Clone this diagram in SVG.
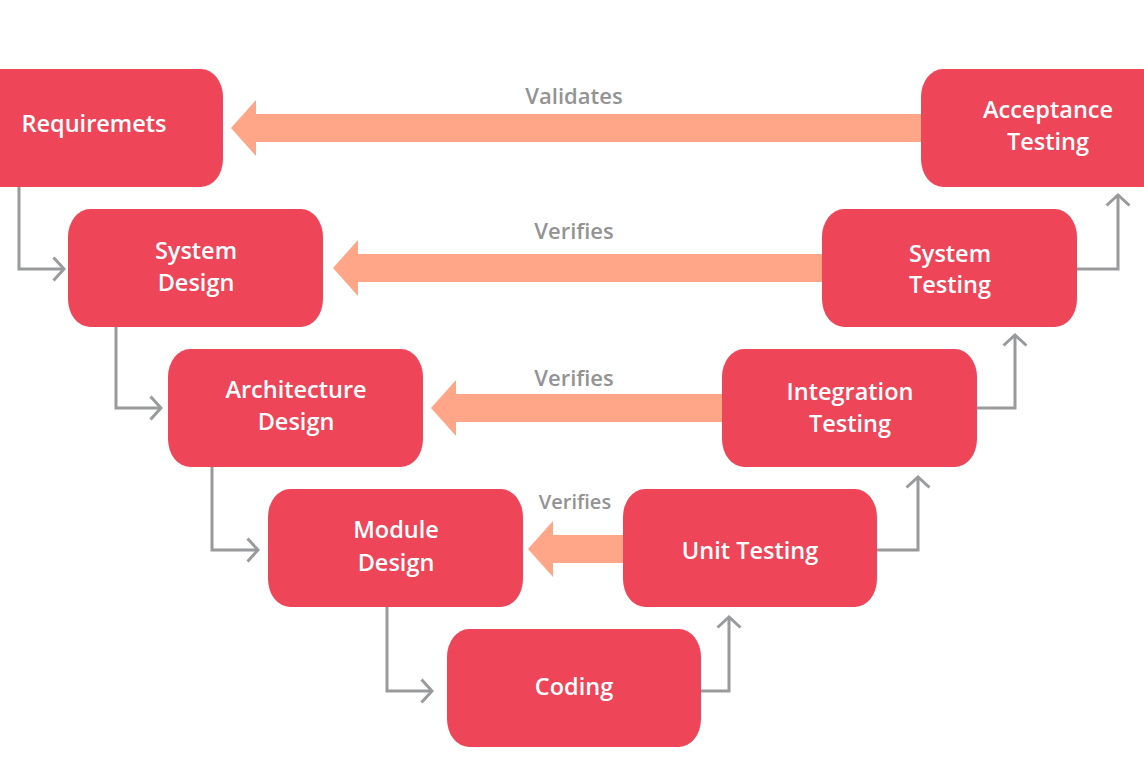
<svg xmlns="http://www.w3.org/2000/svg" width="1144" height="771" viewBox="0 0 1144 771">
<defs>
<style>
.node rect{fill:#EE4558;}
.node text{fill:#FFFFFF;font-family:"Open Sans","Noto Sans",sans-serif;font-weight:600;font-size:23.5px;text-anchor:middle;}
.big{fill:#FFA588;}
.lbl{fill:#939393;font-family:"Open Sans","Noto Sans",sans-serif;font-weight:600;font-size:22px;text-anchor:middle;}
.conn{fill:none;stroke:#999A9C;stroke-width:3;marker-end:url(#chev);}
</style>
<marker id="chev" viewBox="0 0 14 26" refX="12" refY="13" markerWidth="14" markerHeight="26" markerUnits="userSpaceOnUse" orient="auto">
<path d="M1.5,1.5 L12,13 L1.5,24.5" fill="none" stroke="#999A9C" stroke-width="3"/>
</marker>
</defs>
<rect width="1144" height="771" fill="#FFFFFF"/>

<g id="verify-arrows">
<path class="big" d="M231,128 L256,100 L256,114 L922,114 L922,142 L256,142 L256,156 Z"/>
<path class="big" d="M333,268 L358,240 L358,254 L823,254 L823,282 L358,282 L358,296 Z"/>
<path class="big" d="M431,408 L456,380 L456,394 L723,394 L723,422 L456,422 L456,436 Z"/>
<path class="big" d="M528,549 L553,521 L553,535 L624,535 L624,563 L553,563 L553,577 Z"/>
<text class="lbl" x="574" y="104">Validates</text>
<text class="lbl" x="574" y="239">Verifies</text>
<text class="lbl" x="574" y="386">Verifies</text>
<text class="lbl" x="575" y="509" style="font-size:20px">Verifies</text>
</g>

<g id="connectors">
<path class="conn" d="M19,187 L19,269 L64,269"/>
<path class="conn" d="M116,327 L116,408 L161,408"/>
<path class="conn" d="M212,467 L212,550 L258,550"/>
<path class="conn" d="M387,607 L387,691 L432,691"/>
<path class="conn" d="M701,691 L729,691 L729,617"/>
<path class="conn" d="M877,550 L918,550 L918,477"/>
<path class="conn" d="M977,408 L1015,408 L1015,335"/>
<path class="conn" d="M1077,269 L1118,269 L1118,195"/>
</g>

<g id="requirements" class="node">
<rect x="-32" y="69" width="255" height="118" rx="22" ry="28"/>
<text x="94" y="132">Requiremets</text>
</g>
<g id="system-design" class="node">
<rect x="68" y="209" width="255" height="118" rx="22" ry="28"/>
<text x="196" y="259">System</text>
<text x="196" y="291">Design</text>
</g>
<g id="architecture-design" class="node">
<rect x="168" y="349" width="255" height="118" rx="22" ry="28"/>
<text x="296" y="398">Architecture</text>
<text x="296" y="430">Design</text>
</g>
<g id="module-design" class="node">
<rect x="268" y="489" width="255" height="118" rx="22" ry="28"/>
<text x="396" y="538">Module</text>
<text x="396" y="571">Design</text>
</g>
<g id="coding" class="node">
<rect x="447" y="629" width="254" height="118" rx="22" ry="28"/>
<text x="574" y="695">Coding</text>
</g>
<g id="unit-testing" class="node">
<rect x="623" y="489" width="254" height="118" rx="22" ry="28"/>
<text x="750" y="559">Unit Testing</text>
</g>
<g id="integration-testing" class="node">
<rect x="722" y="349" width="255" height="118" rx="22" ry="28"/>
<text x="850" y="400">Integration</text>
<text x="850" y="432">Testing</text>
</g>
<g id="system-testing" class="node">
<rect x="822" y="209" width="255" height="118" rx="22" ry="28"/>
<text x="950" y="262">System</text>
<text x="950" y="293">Testing</text>
</g>
<g id="acceptance-testing" class="node">
<rect x="921" y="69" width="255" height="118" rx="22" ry="28"/>
<text x="1048" y="118">Acceptance</text>
<text x="1048" y="150">Testing</text>
</g>
</svg>
